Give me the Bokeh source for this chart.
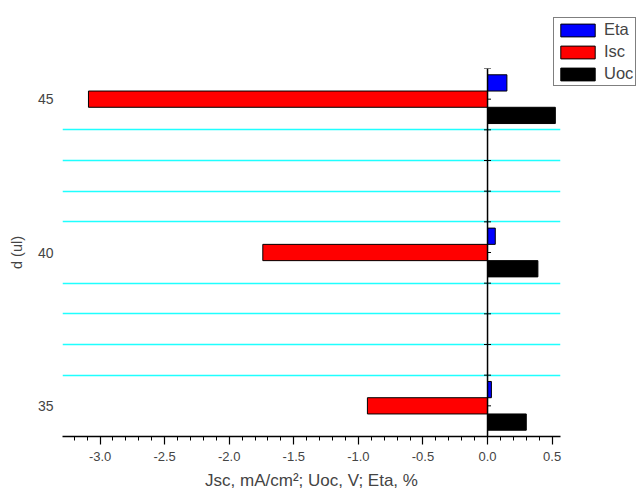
from bokeh.plotting import figure
from bokeh.models import (ColumnDataSource, Legend, LegendItem, Span, FixedTicker,
                          SingleIntervalTicker, PrintfTickFormatter)
from bokeh.transform import dodge
from bokeh.embed import file_html
from bokeh.resources import INLINE

# ---- data ----
d_values = [35, 40, 45]
eta = [0.03, 0.06, 0.15]
isc = [-0.93, -1.74, -3.09]
uoc = [0.30, 0.39, 0.525]
series_names = ["Eta", "Isc", "Uoc"]
series_colors = ["#0000FF", "#FF0000", "#000000"]
y_tick_labels = [35, 40, 45]
grid_levels = [36, 37, 38, 39, 41, 42, 43, 44]
axis_tick_levels = list(range(34, 47))

FONT = "Liberation Sans"

source = ColumnDataSource(data=dict(d=d_values, eta=eta, isc=isc, uoc=uoc))

p = figure(width=642, height=493, frame_width=498, frame_height=368,
           x_range=(-3.291, 0.565), y_range=(34, 46),
           output_backend="svg", toolbar_location=None,
           min_border_left=62, min_border_right=82, min_border_top=68,
           min_border_bottom=57)
p.outline_line_color = None
p.background_fill_color = "white"
p.border_fill_color = "white"

# grid
p.xgrid.visible = False
p.ygrid.ticker = FixedTicker(ticks=grid_levels)
p.ygrid.grid_line_color = "#1FFFFF"
p.ygrid.grid_line_width = 1.4

# vertical-axis ticks at x=0 (drawn under bars)
p.scatter(x=[0] * len(axis_tick_levels), y=axis_tick_levels, marker="dash",
          size=7, line_color="black", line_width=1)

bar_h = 0.53
r_eta = p.hbar(y=dodge("d", bar_h, range=p.y_range), left=0, right="eta", height=bar_h,
               source=source, fill_color=series_colors[0], line_color="black", line_width=1)
r_isc = p.hbar(y=dodge("d", 0, range=p.y_range), left=0, right="isc", height=bar_h,
               source=source, fill_color=series_colors[1], line_color="black", line_width=1)
r_uoc = p.hbar(y=dodge("d", -bar_h, range=p.y_range), left=0, right="uoc", height=bar_h,
               source=source, fill_color=series_colors[2], line_color="black", line_width=1)

# vertical zero axis line
p.add_layout(Span(location=0, dimension="height", line_color="black", line_width=1.5))

# x axis
xa = p.xaxis[0]
xa.ticker = SingleIntervalTicker(interval=0.5, num_minor_ticks=5)
xa.formatter = PrintfTickFormatter(format="%.1f")
xa.axis_label = "Jsc, mA/cm\u00b2; Uoc, V; Eta, %"
xa.axis_label_text_font = FONT
xa.axis_label_text_font_size = "17px"
xa.axis_label_text_font_style = "normal"
xa.axis_label_standoff = 7
xa.major_label_text_font = FONT
xa.major_label_text_font_size = "13px"
xa.major_label_standoff = 7
xa.axis_line_color = "black"
xa.axis_line_width = 1.5
xa.major_tick_out = 8
xa.major_tick_in = 0
xa.minor_tick_out = 4
xa.minor_tick_in = 0
xa.major_tick_line_color = "black"
xa.minor_tick_line_color = "black"
xa.major_tick_line_width = 1.2
xa.minor_tick_line_width = 1

# y axis
ya = p.yaxis[0]
ya.ticker = FixedTicker(ticks=y_tick_labels)
ya.axis_label = "d (ul)"
ya.axis_label_text_font = FONT
ya.axis_label_text_font_size = "14.5px"
ya.axis_label_text_font_style = "normal"
ya.axis_label_standoff = 10
ya.major_label_text_font = FONT
ya.major_label_text_font_size = "14px"
ya.major_label_standoff = 9
ya.axis_line_color = None
ya.major_tick_line_color = None
ya.minor_tick_line_color = None
ya.major_tick_out = 0

legend = Legend(items=[LegendItem(label=series_names[0], renderers=[r_eta]),
                       LegendItem(label=series_names[1], renderers=[r_isc]),
                       LegendItem(label=series_names[2], renderers=[r_uoc])],
                location=(-7, 350))
legend.label_text_font = FONT
legend.label_text_font_size = "16.5px"
legend.glyph_width = 43
legend.glyph_height = 16
legend.label_height = 16
legend.label_standoff = 5
legend.spacing = 3
legend.padding = 2
legend.margin = 0
legend.border_line_color = "black"
legend.border_line_width = 1
legend.background_fill_alpha = 1
p.add_layout(legend, "right")

open("out.html", "w").write(file_html(p, INLINE))
